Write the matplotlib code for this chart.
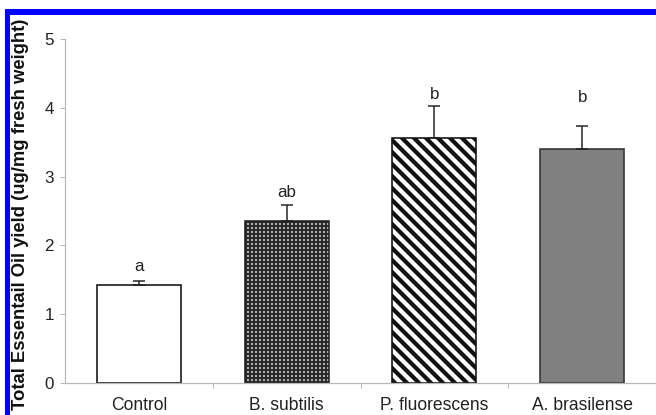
import matplotlib
matplotlib.use("Agg")
import matplotlib.pyplot as plt
from matplotlib.patches import Rectangle

categories = ["Control", "B. subtilis", "P. fluorescens", "A. brasilense"]
means = [1.43, 2.35, 3.56, 3.40]
errors = [0.05, 0.23, 0.47, 0.34]
letters = ["a", "ab", "b", "b"]
letter_y = [1.70, 2.77, 4.19, 4.15]
y_ticks = [0, 1, 2, 3, 4, 5]

plt.rcParams['font.family'] = ['Liberation Sans', 'DejaVu Sans']

DPI = 72
fig = plt.figure(figsize=(656 / DPI, 415 / DPI), dpi=DPI)
ax = fig.add_axes([65 / 656, 32 / 415, 591 / 656, 344 / 415])

x = list(range(len(categories)))
W = 0.57

# Control
ax.bar([x[0]], [means[0]], width=W, color="white", edgecolor="#111111", linewidth=1.6, zorder=2)

# B. subtilis: fine checker
plt.rcParams['hatch.linewidth'] = 2.3
plt.rcParams['hatch.color'] = "#2a2a2a"
ax.bar([x[1]], [means[1]], width=W, color="#e8e8e8", edgecolor="#2a2a2a",
       linewidth=0, hatch="+++", zorder=2)
ax.bar([x[1]], [means[1]], width=W, color="none", edgecolor="#222222", linewidth=1.6, zorder=2.2)

# P. fluorescens: bold diagonal stripes
plt.rcParams['hatch.linewidth'] = 4.2
plt.rcParams['hatch.color'] = "black"
ax.bar([x[2]], [means[2]], width=W, color="white", edgecolor="#111111",
       linewidth=1.6, hatch="\\\\", zorder=2)

# A. brasilense: solid gray
ax.bar([x[3]], [means[3]], width=W, color="#808080", edgecolor="#333333", linewidth=1.6, zorder=2)

ax.errorbar(x, means, yerr=[[0] * len(x), errors], fmt="none", ecolor="#222222",
            elinewidth=1.5, capsize=6, capthick=1.5, zorder=3)

for xi, t, yy in zip(x, letters, letter_y):
    ax.text(xi, yy, t, ha="center", va="center", fontsize=17, color="#222222")

ax.set_xlim(-0.5, 3.5)
ax.set_ylim(0, 5)
ax.set_yticks(y_ticks)
ax.set_xticks(x)
ax.set_xticklabels(categories)
ax.set_xticks([0.5, 1.5, 2.5], minor=True)

for s in ["top", "right"]:
    ax.spines[s].set_visible(False)
for s in ["left", "bottom"]:
    ax.spines[s].set_color("#b8b8b8")
    ax.spines[s].set_linewidth(1.2)

ax.tick_params(axis="y", direction="out", length=5, width=1, color="#b8b8b8",
               labelsize=17, labelcolor="#222222", pad=6)
ax.tick_params(axis="x", which="major", length=0, labelsize=17.5, labelcolor="#222222", pad=14)
ax.tick_params(axis="x", which="minor", direction="out", length=5, width=1, color="#b8b8b8")

fig.text(21 / 656, 1 - 214 / 415, "Total Essentail Oil yield (ug/mg fresh weight)",
         rotation=90, ha="center", va="center", fontsize=18.5, fontweight="bold",
         color="#111111", zorder=1)

# blue frame
fig.patches.append(Rectangle((5 / 656, 1 - 15 / 415), 651 / 656, 6 / 415,
                             transform=fig.transFigure, facecolor="#0000ff",
                             edgecolor="none", zorder=10))
fig.patches.append(Rectangle((5 / 656, 0), 5 / 656, 1 - 9 / 415,
                             transform=fig.transFigure, facecolor="#0000ff",
                             edgecolor="none", zorder=10))

fig.savefig("out.png", dpi=DPI)
